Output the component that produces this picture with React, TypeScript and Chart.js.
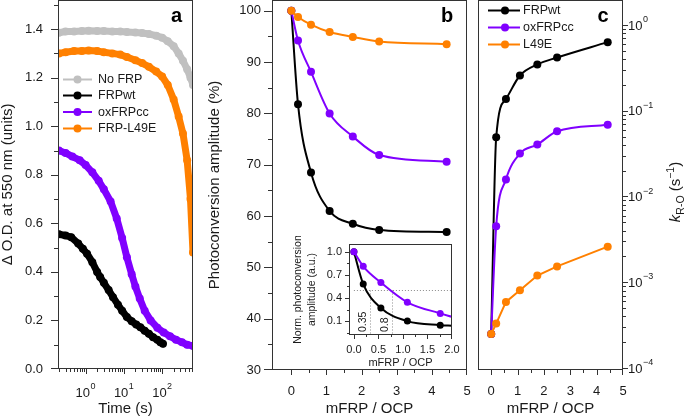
import React, { useEffect, useRef } from 'react';
import { Chart, registerables } from 'chart.js';

Chart.register(...registerables);

const FONT = '"Liberation Sans", Arial, Helvetica, sans-serif';
const GRAY = '#c0c0c0';
const BLACK = '#000000';
const PURPLE = '#8000ff';
const ORANGE = '#ff8000';
const TEXT = '#1a1a1a';
const FRAME = '#333333';

// ---------- Panel a: kinetics (time in s, ΔO.D. at 550 nm) ----------
const timeNoFRP = [0.2, 0.3, 0.5, 0.8, 1.2, 2, 3, 5, 8, 12, 20, 30, 45, 70, 100, 140, 200, 270, 350, 450, 550, 640];
const odNoFRP = [1.385, 1.39, 1.39, 1.392, 1.393, 1.392, 1.392, 1.39, 1.39, 1.388, 1.386, 1.384, 1.38, 1.373, 1.365, 1.35, 1.33, 1.3, 1.27, 1.235, 1.2, 1.17];
const timeL49E = [0.2, 0.3, 0.5, 0.8, 1.2, 2, 3, 5, 8, 12, 20, 30, 45, 70, 100, 140, 200, 270, 350, 450, 550, 640];
const odL49E = [1.3, 1.305, 1.31, 1.31, 1.312, 1.31, 1.305, 1.3, 1.295, 1.285, 1.272, 1.26, 1.245, 1.225, 1.205, 1.17, 1.11, 1.04, 0.97, 0.86, 0.7, 0.48];
const timeOx = [0.2, 0.3, 0.45, 0.7, 1, 1.5, 2.2, 3, 4.5, 6.5, 9, 12, 16, 20, 26, 35, 50, 75, 110, 160, 230, 330, 450, 640];
const odOx = [0.9, 0.89, 0.875, 0.86, 0.84, 0.81, 0.775, 0.74, 0.69, 0.62, 0.54, 0.46, 0.39, 0.34, 0.29, 0.24, 0.2, 0.17, 0.15, 0.135, 0.12, 0.11, 0.1, 0.095];
const timeWt = [0.2, 0.3, 0.42, 0.64, 0.85, 1.09, 1.5, 2, 2.4, 3, 4, 5.2, 7, 9, 12, 16, 21, 27, 35, 45, 58, 75, 90, 105];
const odWt = [0.555, 0.55, 0.543, 0.517, 0.495, 0.475, 0.44, 0.4, 0.379, 0.355, 0.325, 0.296, 0.265, 0.24, 0.214, 0.197, 0.183, 0.172, 0.158, 0.145, 0.131, 0.12, 0.11, 0.104];

// ---------- Panels b, c and inset: mFRP / OCP ratio ----------
const ratios = [0, 0.19, 0.56, 1.09, 1.75, 2.5, 4.42];
const ampWt = [100, 81.8, 68.5, 61.0, 58.5, 57.3, 56.9];
const ampOx = [100, 94.2, 88.1, 80.0, 75.5, 71.9, 70.6];
const ampL49E = [100, 98.8, 97.3, 95.85, 94.9, 94.0, 93.5];

const kWt = [2.5e-4, 0.049, 0.137, 0.257, 0.346, 0.417, 0.629];
const kOx = [2.5e-4, 0.0045, 0.0158, 0.0316, 0.0403, 0.0575, 0.0687];
const kL49E = [2.5e-4, 3.3e-4, 5.9e-4, 8.1e-4, 1.2e-3, 1.53e-3, 2.6e-3];

const insetRatios = [0, 0.19, 0.55, 1.09, 1.76, 2.0];
const insetWt = [1.0, 0.58, 0.27, 0.1, 0.048, 0.04];
const insetOx = [1.0, 0.81, 0.6, 0.344, 0.2, 0.155];
const insetHalfX = [0.32, 0.78];
const insetHalfLabels = ['0.35', '0.8'];

const legendA = ['No FRP', 'FRPwt', 'oxFRPcc', 'FRP-L49E'];
const legendC = ['FRPwt', 'oxFRPcc', 'L49E'];

const pts = (xs: number[], ys: number[]) => ys.map((y, i) => ({ x: xs[i], y }));
const range = (a: number, b: number, s: number) => {
  const out: number[] = [];
  for (let v = a; v <= b + 1e-9; v += s) out.push(Math.round(v * 1000) / 1000);
  return out;
};
const logMinor = (lo: number, hi: number) => {
  const out: number[] = [];
  for (let e = lo; e <= hi; e++) for (let m = 2; m <= 9; m++) out.push(m * Math.pow(10, e));
  return out;
};

const zeroPad = (s: any) => {
  s.paddingTop = 0;
  s.paddingBottom = 0;
  s.paddingLeft = 0;
  s.paddingRight = 0;
};
const fitW = (w: number) => (s: any) => { s.width = w; zeroPad(s); };
const fitH = (h: number) => (s: any) => { s.height = h; zeroPad(s); };

function decor(spec: any) {
  return {
    id: 'decor',
    beforeDatasetsDraw(chart: any) {
      if (spec.under) spec.under(chart);
    },
    afterDatasetsDraw(chart: any) {
      const ctx = chart.ctx;
      const ca = chart.chartArea;
      const L = Math.round(ca.left);
      const R = Math.round(ca.right) - 1;
      const T = Math.round(ca.top);
      const B = Math.round(ca.bottom) - 1;
      ctx.save();
      ctx.setLineDash([]);
      ctx.fillStyle = FRAME;
      // frame box
      ctx.fillRect(L, T, R - L + 1, 1);
      ctx.fillRect(L, B, R - L + 1, 1);
      ctx.fillRect(L, T, 1, B - T + 1);
      ctx.fillRect(R, T, 1, B - T + 1);
      for (const ax of spec.axes || []) {
        const sc = chart.scales[ax.id];
        const draw = (vals: number[], len: number) => {
          ctx.fillStyle = FRAME;
          for (const v of vals) {
            const raw = sc.getPixelForValue(v);
            if (ax.side === 'bottom' ? raw < ca.left - 0.5 || raw > ca.right + 0.5 : raw < ca.top - 0.5 || raw > ca.bottom + 0.5) continue;
            const p = Math.min(Math.round(raw), ax.side === 'bottom' ? R : B);
            if (ax.side === 'left') ctx.fillRect(L - len, p, len, 1);
            else if (ax.side === 'right') ctx.fillRect(R + 1, p, len, 1);
            else ctx.fillRect(p, B + 1, 1, len);
          }
        };
        draw(ax.major, ax.majorLen);
        draw(ax.minor, ax.minorLen);
        if (ax.exps) {
          ctx.fillStyle = TEXT;
          ctx.textBaseline = 'alphabetic';
          ctx.textAlign = 'left';
          for (const e of ax.exps) {
            const p = sc.getPixelForValue(Math.pow(10, e));
            const sup = e < 0 ? '\u2212' + String(-e) : String(e);
            ctx.font = `13px ${FONT}`;
            const w1 = ctx.measureText('10').width;
            ctx.font = `9px ${FONT}`;
            const w2 = ctx.measureText(sup).width;
            let x0: number, base: number;
            if (ax.side === 'bottom') {
              x0 = p - (w1 + w2 + 0.5) / 2;
              base = ax.base;
            } else {
              x0 = R + ax.pad;
              base = p + 4.7;
            }
            ctx.font = `13px ${FONT}`;
            ctx.fillText('10', x0, base);
            ctx.font = `9px ${FONT}`;
            ctx.fillText(sup, x0 + w1 + 0.5, base - 7.5);
          }
        }
      }
      // page-coordinate decorations
      ctx.translate(-(spec.ox || 0), -(spec.oy || 0));
      if (spec.legend) {
        const lg = spec.legend;
        lg.items.forEach((it: any, i: number) => {
          const y = lg.ys[i];
          ctx.strokeStyle = it.color;
          ctx.lineWidth = 2;
          ctx.beginPath();
          ctx.moveTo(lg.x0, y);
          ctx.lineTo(lg.x1, y);
          ctx.stroke();
          ctx.fillStyle = it.color;
          ctx.beginPath();
          ctx.arc(lg.dotX, y, lg.r, 0, Math.PI * 2);
          ctx.fill();
          ctx.fillStyle = TEXT;
          ctx.font = `${lg.size}px ${FONT}`;
          ctx.textAlign = 'left';
          ctx.textBaseline = 'middle';
          ctx.fillText(it.label, lg.textX, y + 0.5);
        });
      }
      if (spec.label) {
        ctx.fillStyle = '#000';
        ctx.font = `bold 20px ${FONT}`;
        ctx.textAlign = 'center';
        ctx.textBaseline = 'alphabetic';
        ctx.fillText(spec.label.text, spec.label.x, spec.label.y);
      }
      if (spec.over) spec.over(ctx);
      ctx.restore();
    },
  };
}

const noGrid = { display: false, drawTicks: false };
const noBorder = { display: false };
const tickFont = { family: FONT, size: 13 };
const titleFont = { family: FONT, size: 15, lineHeight: 1 };

function lineDs(xs: number[], ys: number[], color: string, opts: any = {}) {
  return {
    data: pts(xs, ys),
    borderColor: color,
    backgroundColor: color,
    pointBackgroundColor: color,
    pointBorderWidth: 0,
    fill: false,
    ...opts,
  };
}

function bandDs(xs: number[], ys: number[], color: string) {
  return lineDs(xs, ys, color, {
    borderWidth: 7,
    pointRadius: 4,
    tension: 0,
    borderJoinStyle: 'round',
    borderCapStyle: 'round',
  });
}

function fitDs(xs: number[], ys: number[], color: string, r: number, lastHidden = false) {
  return lineDs(xs, ys, color, {
    borderWidth: 2,
    pointRadius: (c: any) => (lastHidden && c.dataIndex === ys.length - 1 ? 0 : r),
    cubicInterpolationMode: 'monotone',
  });
}

const baseOptions = (padding: any) => ({
  animation: false,
  responsive: false,
  maintainAspectRatio: false,
  events: [],
  layout: { padding, autoPadding: false },
  plugins: { legend: { display: false }, tooltip: { enabled: false }, title: { display: false } },
});

function configA(): any {
  return {
    type: 'line',
    data: {
      datasets: [
        bandDs(timeOx, odOx, PURPLE),
        bandDs(timeWt, odWt, BLACK),
        bandDs(timeL49E, odL49E, ORANGE),
        bandDs(timeNoFRP, odNoFRP, GRAY),
      ],
    },
    options: {
      ...baseOptions({ left: 0, top: 0, right: 3, bottom: 0 }),
      scales: {
        x: {
          type: 'logarithmic', min: 0.19, max: 640,
          grid: noGrid, border: noBorder,
          ticks: { display: false },
          afterFit: fitH(50),
          title: { display: true, text: 'Time (s)', font: titleFont, color: TEXT, padding: { top: 0, bottom: 2.5 } },
        },
        y: {
          type: 'linear', min: 0, max: 1.52,
          grid: noGrid, border: noBorder,
          afterBuildTicks: (s: any) => { s.ticks = range(0, 1.4, 0.2).map((v) => ({ value: v })); },
          ticks: { padding: 15, font: tickFont, color: TEXT, autoSkip: false, callback: (v: any) => Number(v).toFixed(1) },
          afterFit: fitW(58),
          title: { display: true, text: '\u0394 O.D. at 550 nm (units)', font: titleFont, color: TEXT, padding: { top: 0, bottom: 0 } },
        },
      },
    },
    plugins: [
      decor({
        ox: 0, oy: 0,
        axes: [
          { id: 'x', side: 'bottom', major: [1, 10, 100], minor: logMinor(-1, 2).filter((v) => v >= 0.19 && v <= 640), majorLen: 5, minorLen: 3, exps: [0, 1, 2], base: 396.5 },
          { id: 'y', side: 'left', major: range(0, 1.4, 0.2), minor: range(0.1, 1.5, 0.2), majorLen: 7, minorLen: 4 },
        ],
        legend: {
          x0: 63, x1: 92, dotX: 77.5, textX: 98, r: 4, size: 12.5,
          ys: [79.5, 95.5, 112, 128.5],
          items: [
            { label: legendA[0], color: GRAY },
            { label: legendA[1], color: BLACK },
            { label: legendA[2], color: PURPLE },
            { label: legendA[3], color: ORANGE },
          ],
        },
        label: { text: 'a', x: 176.5, y: 21.5 },
      }),
    ],
  };
}

function configB(): any {
  return {
    type: 'line',
    data: {
      datasets: [
        fitDs(ratios, ampL49E, ORANGE, 4),
        fitDs(ratios, ampOx, PURPLE, 4),
        fitDs(ratios, ampWt, BLACK, 4),
      ],
    },
    options: {
      ...baseOptions({ left: 0, top: 0, right: 5, bottom: 0 }),
      scales: {
        x: {
          type: 'linear', min: -0.55, max: 5,
          grid: noGrid, border: noBorder,
          afterBuildTicks: (s: any) => { s.ticks = range(0, 5, 1).map((v) => ({ value: v })); },
          ticks: { padding: 14, font: tickFont, color: TEXT, autoSkip: false, maxRotation: 0, callback: (v: any) => String(v) },
          afterFit: fitH(49),
          title: { display: true, text: 'mFRP / OCP', font: titleFont, color: TEXT, padding: { top: 0, bottom: 2.5 } },
        },
        y: {
          type: 'linear', min: 30, max: 102.1,
          grid: noGrid, border: noBorder,
          afterBuildTicks: (s: any) => { s.ticks = range(30, 100, 10).map((v) => ({ value: v })); },
          ticks: { padding: 11, font: tickFont, color: TEXT, autoSkip: false, callback: (v: any) => String(v) },
          afterFit: fitW(76),
          title: { display: true, text: 'Photoconversion amplitude (%)', font: titleFont, color: TEXT, padding: { top: 11.5, bottom: 0 } },
        },
      },
    },
    plugins: [
      decor({
        ox: 196, oy: 0,
        axes: [
          { id: 'x', side: 'bottom', major: range(0, 5, 1), minor: range(0.5, 4.5, 1), majorLen: 5, minorLen: 3 },
          { id: 'y', side: 'left', major: range(30, 100, 10), minor: range(35, 95, 10), majorLen: 8, minorLen: 4 },
        ],
        label: { text: 'b', x: 447, y: 21.5 },
      }),
    ],
  };
}

function configC(): any {
  return {
    type: 'line',
    data: {
      datasets: [
        lineDs(ratios, kL49E, ORANGE, { borderWidth: 2, pointRadius: 4, tension: 0 }),
        fitDs(ratios, kOx, PURPLE, 4),
        fitDs(ratios, kWt, BLACK, 4),
      ],
    },
    options: {
      ...baseOptions({ left: 6, top: 0, right: 0, bottom: 0 }),
      scales: {
        x: {
          type: 'linear', min: -0.5, max: 5,
          grid: noGrid, border: noBorder,
          afterBuildTicks: (s: any) => { s.ticks = range(0, 5, 1).map((v) => ({ value: v })); },
          ticks: { padding: 14, font: tickFont, color: TEXT, autoSkip: false, maxRotation: 0, callback: (v: any) => String(v) },
          afterFit: fitH(49),
          title: { display: true, text: 'mFRP / OCP', font: titleFont, color: TEXT, padding: { top: 0, bottom: 2.5 } },
        },
        y: {
          type: 'logarithmic', position: 'right', min: 9.5e-5, max: 1.95,
          grid: noGrid, border: noBorder,
          ticks: { display: false },
          afterFit: fitW(62),
          title: { display: false },
        },
      },
    },
    plugins: [
      decor({
        ox: 472, oy: 0,
        axes: [
          { id: 'x', side: 'bottom', major: range(0, 5, 1), minor: range(0.5, 4.5, 1), majorLen: 5, minorLen: 3 },
          { id: 'y', side: 'right', major: [1e-4, 1e-3, 1e-2, 1e-1, 1], minor: logMinor(-4, -1), majorLen: 5, minorLen: 3, exps: [0, -1, -2, -3, -4], pad: 6 },
        ],
        legend: {
          x0: 488, x1: 520, dotX: 505, textX: 523, r: 4, size: 12.5,
          ys: [10.5, 27.5, 44.5],
          items: [
            { label: legendC[0], color: BLACK },
            { label: legendC[1], color: PURPLE },
            { label: legendC[2], color: ORANGE },
          ],
        },
        label: { text: 'c', x: 603, y: 21.5 },
        over: (ctx: any) => {
          ctx.save();
          ctx.translate(675, 192);
          ctx.rotate(-Math.PI / 2);
          ctx.fillStyle = TEXT;
          ctx.textBaseline = 'alphabetic';
          ctx.textAlign = 'left';
          const parts = [
            { t: 'k', f: `italic 15px ${FONT}`, dy: 0 },
            { t: 'R-O', f: `10.5px ${FONT}`, dy: 3.5 },
            { t: ' (s', f: `15px ${FONT}`, dy: 0 },
            { t: '\u22121', f: `10.5px ${FONT}`, dy: -6.5 },
            { t: ')', f: `15px ${FONT}`, dy: 0 },
          ];
          let total = 0;
          const ws = parts.map((p) => { ctx.font = p.f; const w = ctx.measureText(p.t).width; total += w; return w; });
          let x = -total / 2;
          parts.forEach((p, i) => { ctx.font = p.f; ctx.fillText(p.t, x, 5.3 + p.dy); x += ws[i]; });
          ctx.restore();
        },
      }),
    ],
  };
}

function configInset(): any {
  return {
    type: 'line',
    data: {
      datasets: [
        fitDs(insetRatios, insetOx, PURPLE, 3.5, true),
        fitDs(insetRatios, insetWt, BLACK, 3.5, true),
      ],
    },
    options: {
      ...baseOptions({ left: 0, top: 8, right: 10, bottom: 0 }),
      scales: {
        x: {
          type: 'linear', min: -0.1, max: 2.0,
          grid: noGrid, border: noBorder,
          afterBuildTicks: (s: any) => { s.ticks = range(0, 2, 0.5).map((v) => ({ value: v })); },
          ticks: { padding: 8, font: { family: FONT, size: 11 }, color: TEXT, autoSkip: false, maxRotation: 0, callback: (v: any) => Number(v).toFixed(1) },
          afterFit: fitH(37),
          title: { display: true, text: 'mFRP / OCP', font: { family: FONT, size: 11, lineHeight: 1.27 }, color: TEXT, padding: { top: 0, bottom: 2.5 } },
        },
        y: {
          type: 'linear', min: -0.08, max: 1.1,
          grid: noGrid, border: noBorder,
          afterBuildTicks: (s: any) => { s.ticks = [0.1, 0.4, 0.7, 1.0].map((v) => ({ value: v })); },
          ticks: { padding: 7, font: { family: FONT, size: 11 }, color: TEXT, autoSkip: false, callback: (v: any) => Number(v).toFixed(1) },
          afterFit: fitW(69),
          title: { display: true, text: ['Norm. photoconversion', 'amplitude (a.u.)'], font: { family: FONT, size: 10.5, lineHeight: 1.33 }, color: TEXT, padding: { top: 11, bottom: 0 } },
        },
      },
    },
    plugins: [
      decor({
        ox: 280, oy: 236,
        axes: [
          { id: 'x', side: 'bottom', major: range(0, 2, 0.5), minor: [0.25, 0.75, 1.25, 1.75], majorLen: 4, minorLen: 2 },
          { id: 'y', side: 'left', major: [0.1, 0.4, 0.7, 1.0], minor: [-0.05, 0.25, 0.55, 0.85], majorLen: 4, minorLen: 2 },
        ],
        under: (chart: any) => {
          const ctx = chart.ctx;
          const xs = chart.scales.x;
          const ys = chart.scales.y;
          const ca = chart.chartArea;
          ctx.save();
          ctx.strokeStyle = '#8a8a8a';
          ctx.lineWidth = 1;
          ctx.setLineDash([1, 2]);
          const yh = Math.round(ys.getPixelForValue(0.5)) + 0.5;
          ctx.beginPath();
          ctx.moveTo(xs.getPixelForValue(0), yh);
          ctx.lineTo(ca.right, yh);
          ctx.stroke();
          insetHalfX.forEach((v, i) => {
            const px = Math.round(xs.getPixelForValue(v)) + 0.5;
            ctx.beginPath();
            ctx.moveTo(px, yh);
            ctx.lineTo(px, ca.bottom);
            ctx.stroke();
            ctx.save();
            ctx.translate(px - 2, ca.bottom - 3);
            ctx.rotate(-Math.PI / 2);
            ctx.fillStyle = TEXT;
            ctx.font = `10.5px ${FONT}`;
            ctx.textAlign = 'left';
            ctx.textBaseline = 'bottom';
            ctx.fillText(insetHalfLabels[i], 0, 0);
            ctx.restore();
          });
          ctx.restore();
        },
      }),
    ],
  };
}

function ChartCanvas({ make, left, top, width, height }: any) {
  const ref = useRef<HTMLCanvasElement | null>(null);
  useEffect(() => {
    if (!ref.current) return;
    const chart = new Chart(ref.current, make());
    return () => chart.destroy();
  }, [make]);
  return (
    <canvas
      ref={ref}
      width={width}
      height={height}
      style={{ position: 'absolute', left, top, width, height }}
    />
  );
}

export default function App() {
  return (
    <div style={{ position: 'fixed', left: 0, top: 0, width: 685, height: 419, background: '#fff', overflow: 'hidden' }}>
      <ChartCanvas make={configA} left={0} top={0} width={196} height={419} />
      <ChartCanvas make={configB} left={196} top={0} width={276} height={419} />
      <ChartCanvas make={configC} left={472} top={0} width={213} height={419} />
      <ChartCanvas make={configInset} left={280} top={236} width={182} height={136} />
    </div>
  );
}
